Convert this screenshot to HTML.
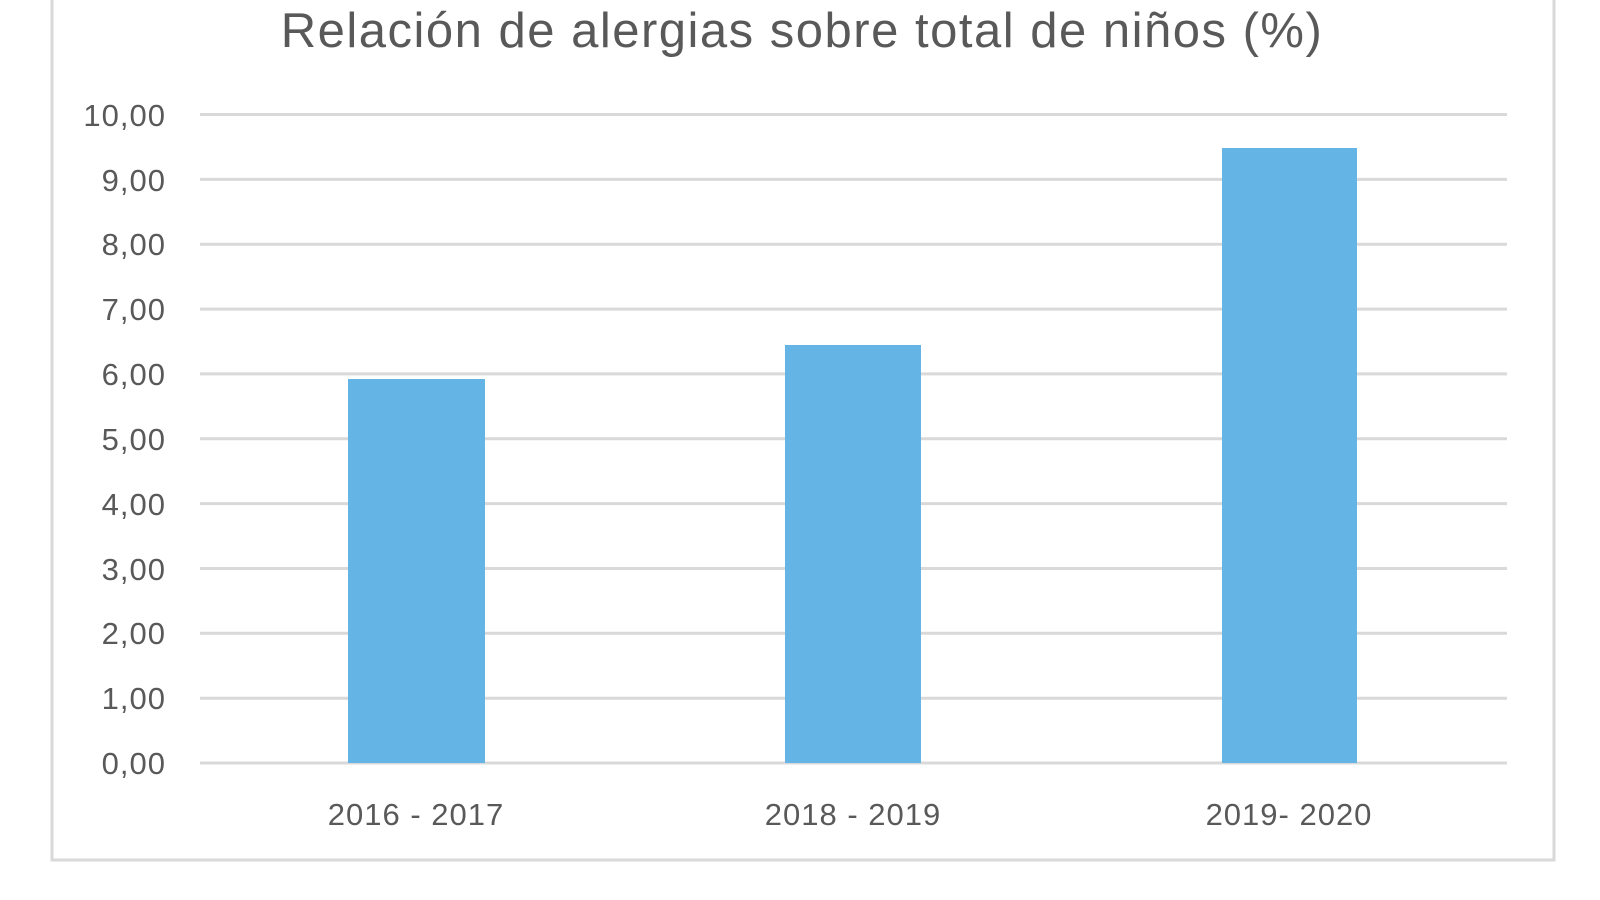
<!DOCTYPE html>
<html><head><meta charset="utf-8"><style>
html,body{margin:0;padding:0;background:#fff;width:1600px;height:900px;overflow:hidden}
</style></head><body>
<svg width="1600" height="900" xmlns="http://www.w3.org/2000/svg" font-family="Liberation Sans, sans-serif">
<rect x="52" y="-10" width="1502" height="870" fill="#fff" stroke="#d9d9d9" stroke-width="3"/>
<text x="802" y="47" text-anchor="middle" font-size="49" letter-spacing="1.5" fill="#595959">Relación de alergias sobre total de niños (%)</text>
<g stroke="#d9d9d9" stroke-width="3">
<line x1="200" x2="1507" y1="114.5" y2="114.5"/>
<line x1="200" x2="1507" y1="179.4" y2="179.4"/>
<line x1="200" x2="1507" y1="244.2" y2="244.2"/>
<line x1="200" x2="1507" y1="309.1" y2="309.1"/>
<line x1="200" x2="1507" y1="373.9" y2="373.9"/>
<line x1="200" x2="1507" y1="438.8" y2="438.8"/>
<line x1="200" x2="1507" y1="503.6" y2="503.6"/>
<line x1="200" x2="1507" y1="568.5" y2="568.5"/>
<line x1="200" x2="1507" y1="633.3" y2="633.3"/>
<line x1="200" x2="1507" y1="698.2" y2="698.2"/>
<line x1="200" x2="1507" y1="763" y2="763"/>
</g>
<g fill="#64b5e5">
<rect x="348" y="379" width="137" height="384"/>
<rect x="785" y="345" width="136" height="418"/>
<rect x="1222" y="148" width="135" height="615"/>
</g>
<g font-size="31" letter-spacing="1" fill="#595959" text-anchor="end">
<text x="166" y="126">10,00</text>
<text x="166" y="191">9,00</text>
<text x="166" y="255">8,00</text>
<text x="166" y="320">7,00</text>
<text x="166" y="385">6,00</text>
<text x="166" y="450">5,00</text>
<text x="166" y="515">4,00</text>
<text x="166" y="580">3,00</text>
<text x="166" y="644">2,00</text>
<text x="166" y="709">1,00</text>
<text x="166" y="774">0,00</text>
</g>
<g font-size="31" letter-spacing="1" fill="#595959" text-anchor="middle">
<text x="416" y="825">2016 - 2017</text>
<text x="853" y="825">2018 - 2019</text>
<text x="1289" y="825">2019- 2020</text>
</g>
</svg>
</body></html>
